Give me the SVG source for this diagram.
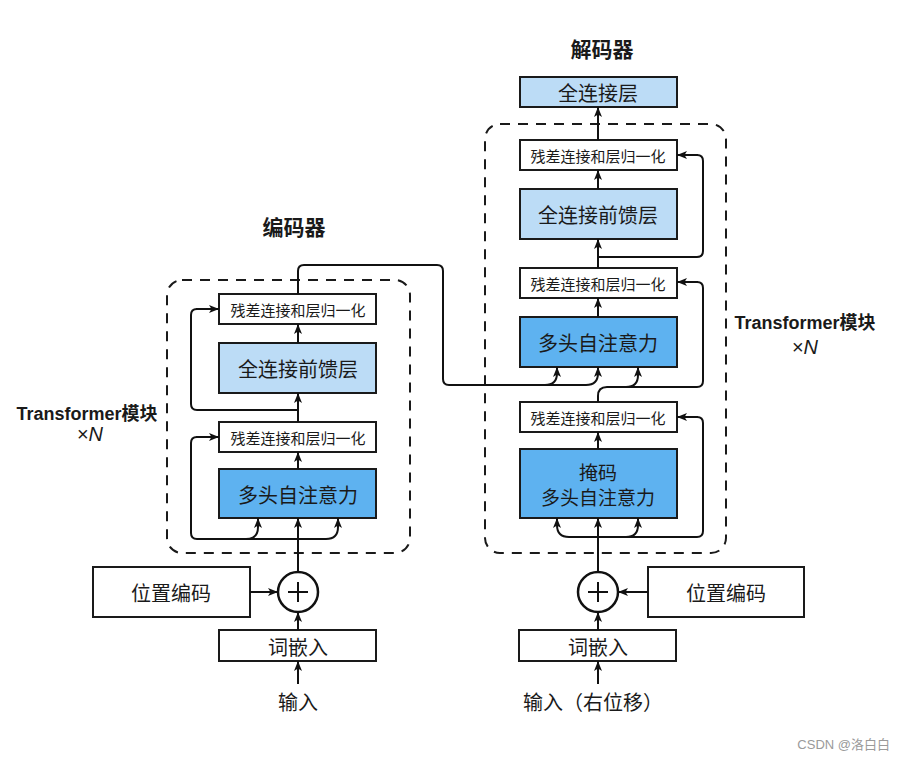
<svg xmlns="http://www.w3.org/2000/svg" width="906" height="759" viewBox="0 0 906 759">
<defs>
<marker id="ah" viewBox="0 0 10 8" refX="10" refY="4" markerWidth="10" markerHeight="8" markerUnits="userSpaceOnUse" orient="auto">
<path d="M0,0 L10,4 L0,8 L2.5,4 Z" fill="#111"/>
</marker>
<style>
.box{stroke:#1a1a1a;stroke-width:2;fill:#fff}
.lb{fill:#bcdcf6}
.mb{fill:#5eb2f0}
.dash{fill:none;stroke:#1a1a1a;stroke-width:2;stroke-dasharray:10 8}
.ln{fill:none;stroke:#111;stroke-width:2}
.ar{fill:none;stroke:#111;stroke-width:2;marker-end:url(#ah)}
.t{font-family:"Noto Sans CJK SC","Liberation Serif",serif;fill:#1a1a1a;text-anchor:middle;dominant-baseline:central}
.s15{font-size:15px}
.s20{font-size:20px}
.s19{font-size:19px}
.title{font-family:"Noto Sans CJK SC",sans-serif;font-size:21px;font-weight:bold;fill:#1a1a1a;text-anchor:middle}
.tf{font-family:"Liberation Sans","Noto Sans CJK SC",sans-serif;font-size:18px;font-weight:bold;fill:#1a1a1a;text-anchor:middle}
.xn{font-family:"Liberation Sans",sans-serif;font-size:20px;fill:#1a1a1a;text-anchor:middle}
</style>
</defs>
<rect width="906" height="759" fill="#fff"/>

<!-- titles and labels -->
<text class="title" x="294" y="235">编码器</text>
<text class="title" x="602" y="57">解码器</text>
<text class="tf" x="87" y="420">Transformer模块</text>
<text class="xn" x="90" y="441">×<tspan font-style="italic">N</tspan></text>
<text class="tf" x="805" y="329">Transformer模块</text>
<text class="xn" x="805" y="354">×<tspan font-style="italic">N</tspan></text>

<!-- dashed containers -->
<rect class="dash" x="167" y="280" width="243" height="273" rx="15"/>
<rect class="dash" x="485" y="124" width="241" height="429" rx="15"/>

<!-- encoder nodes -->
<g id="enc-norm2"><rect class="box" x="219" y="294" width="157" height="30"/><text class="t s15" x="298" y="309">残差连接和层归一化</text></g>
<g id="enc-ffn"><rect class="box lb" x="219" y="343" width="157" height="50"/><text class="t s20" x="298" y="368">全连接前馈层</text></g>
<g id="enc-norm1"><rect class="box" x="219" y="422" width="157" height="30"/><text class="t s15" x="298" y="437">残差连接和层归一化</text></g>
<g id="enc-mha"><rect class="box mb" x="219" y="469" width="157" height="49"/><text class="t s20" x="298" y="494">多头自注意力</text></g>
<g id="enc-pos"><rect class="box" x="93" y="567" width="157" height="50"/><text class="t s20" x="171" y="592">位置编码</text></g>
<g id="enc-add"><circle cx="298" cy="592" r="20" fill="#fff" stroke="#111" stroke-width="2.5"/><path class="ln" d="M288,592 H308 M298,582 V602"/></g>
<g id="enc-emb"><rect class="box" x="219" y="630" width="157" height="31"/><text class="t s20" x="298" y="646">词嵌入</text></g>
<g id="enc-in"><text class="t s20" x="298" y="701">输入</text></g>

<!-- decoder nodes -->
<g id="dec-fc"><rect class="box lb" x="520" y="77" width="157" height="30"/><text class="t s20" x="598" y="92">全连接层</text></g>
<g id="dec-norm3"><rect class="box" x="520" y="140" width="157" height="30"/><text class="t s15" x="598" y="155">残差连接和层归一化</text></g>
<g id="dec-ffn"><rect class="box lb" x="520" y="189" width="157" height="50"/><text class="t s20" x="598" y="214">全连接前馈层</text></g>
<g id="dec-norm2"><rect class="box" x="520" y="268" width="157" height="30"/><text class="t s15" x="598" y="283">残差连接和层归一化</text></g>
<g id="dec-mha"><rect class="box mb" x="520" y="317" width="157" height="50"/><text class="t s20" x="598" y="342">多头自注意力</text></g>
<g id="dec-norm1"><rect class="box" x="520" y="402" width="157" height="30"/><text class="t s15" x="598" y="417">残差连接和层归一化</text></g>
<g id="dec-mmha"><rect class="box mb" x="520" y="449" width="157" height="69"/><text class="t s19" x="598" y="471">掩码</text><text class="t s19" x="598" y="496">多头自注意力</text></g>
<g id="dec-add"><circle cx="598" cy="592" r="20" fill="#fff" stroke="#111" stroke-width="2.5"/><path class="ln" d="M588,592 H608 M598,582 V602"/></g>
<g id="dec-pos"><rect class="box" x="648" y="567" width="156" height="50"/><text class="t s20" x="726" y="592">位置编码</text></g>
<g id="dec-emb"><rect class="box" x="519" y="630" width="157" height="31"/><text class="t s20" x="598" y="646">词嵌入</text></g>
<g id="dec-in"><text class="t s20" x="593" y="701">输入（右位移）</text></g>

<!-- connectors -->
<g id="connectors">
<!-- encoder -->
<path class="ar" d="M298,684 V661"/>
<path class="ar" d="M298,630 V612"/>
<path class="ar" d="M250,592 H278"/>
<path class="ar" d="M298,572 V518"/>
<path class="ln" d="M326,539 H197 Q191,539 191,533 V443 Q191,437 197,437"/>
<path class="ar" d="M196,437 H219"/>
<path class="ar" d="M246,539 Q258,539 258,527 V518"/>
<path class="ar" d="M326,539 Q338,539 338,527 V518"/>
<path class="ar" d="M298,469 V452"/>
<path class="ar" d="M298,422 V393"/>
<path class="ln" d="M298,410 H197 Q191,410 191,404 V315 Q191,309 197,309"/>
<path class="ar" d="M196,309 H219"/>
<path class="ar" d="M298,343 V324"/>
<!-- encoder to decoder -->
<path class="ln" d="M298,294 V271 Q298,265 304,265 H437 Q443,265 443,271 V379 Q443,385 449,385 H586"/>
<path class="ar" d="M586,385 Q598,385 598,373 V367"/>
<path class="ar" d="M545,385 Q557,385 557,373 V367"/>
<!-- decoder -->
<path class="ar" d="M598,684 V661"/>
<path class="ar" d="M598,630 V612"/>
<path class="ar" d="M648,592 H618"/>
<path class="ar" d="M598,572 V518"/>
<path class="ar" d="M569,537 Q557,537 557,525 V518"/>
<path class="ar" d="M626,537 Q638,537 638,525 V518"/>
<path class="ln" d="M569,537 H697 Q703,537 703,531 V423 Q703,417 697,417"/>
<path class="ar" d="M698,417 H677"/>
<path class="ar" d="M598,449 V432"/>
<path class="ln" d="M598,402 V396 Q598,387 607,387 H697 Q703,387 703,381 V288 Q703,282 697,282"/>
<path class="ar" d="M698,282 H677"/>
<path class="ar" d="M626,387 Q638,387 638,375 V367"/>
<path class="ar" d="M598,317 V298"/>
<path class="ar" d="M598,268 V239"/>
<path class="ln" d="M598,257 H697 Q703,257 703,251 V161 Q703,155 697,155"/>
<path class="ar" d="M698,155 H677"/>
<path class="ar" d="M598,189 V170"/>
<path class="ar" d="M598,140 V107"/>
</g>

<text x="890" y="749" font-family="Liberation Sans,Noto Sans CJK SC,sans-serif" font-size="13" fill="#9a9a9a" text-anchor="end">CSDN @洛白白</text>
</svg>
